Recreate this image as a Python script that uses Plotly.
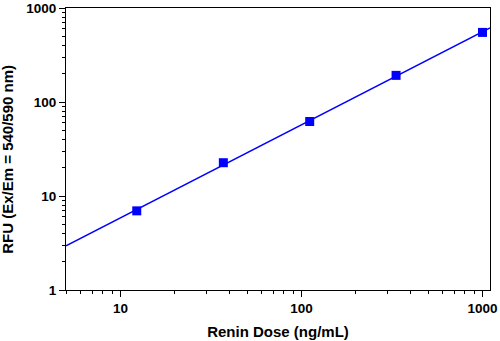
import numpy as np
import plotly.graph_objects as go

dose = [12.3, 37, 111, 333, 1000]
rfu = [6.95, 22.6, 62.0, 192, 550]
fit_x_range = [5, 1100]

# linear fit in log-log space
coef = np.polyfit(np.log10(dose), np.log10(rfu), 1)
fx = np.array(fit_x_range, dtype=float)
fy = 10 ** np.polyval(coef, np.log10(fx))

fig = go.Figure()
fig.add_trace(go.Scatter(x=fx, y=fy, mode="lines",
                         line=dict(color="#0000FF", width=1.5),
                         showlegend=False, hoverinfo="skip", cliponaxis=True))
fig.add_trace(go.Scatter(x=dose, y=rfu, mode="markers",
                         marker=dict(symbol="square", size=9, color="#0000FF"),
                         showlegend=False, cliponaxis=False))

fam = "Liberation Sans, Arial, sans-serif"
fig.update_layout(
    width=500, height=341,
    margin=dict(l=66, r=10, t=8, b=51),
    plot_bgcolor="white", paper_bgcolor="white",
    font=dict(family=fam, size=14, color="black"),
)
fig.update_xaxes(
    type="log", range=[np.log10(5), np.log10(1100)], automargin=False,
    tickvals=[10, 100, 1000], ticktext=["<b>10</b>", "<b>100</b>", "<b>1000</b>"],
    tickfont=dict(size=13.5),
    ticks="outside", ticklen=6, tickwidth=1, tickcolor="black",
    minor=dict(ticks="outside", ticklen=3, tickcolor="black",
               tickvals=[5, 6, 7, 8, 9, 20, 30, 40, 50, 60, 70, 80, 90,
                         200, 300, 400, 500, 600, 700, 800, 900]),
    showline=True, linecolor="black", linewidth=1, mirror=True,
    showgrid=False, zeroline=False,
    title=dict(text="<b>Renin Dose (ng/mL)</b>", font=dict(size=15), standoff=11),
)
fig.update_yaxes(
    type="log", range=[0, 3], automargin=False,
    tickvals=[1, 10, 100, 1000], ticktext=["<b>1</b>", "<b>10</b>", "<b>100</b>", "<b>1000</b>"],
    tickfont=dict(size=13.5),
    ticks="outside", ticklen=6, tickwidth=1, tickcolor="black",
    minor=dict(ticks="outside", ticklen=3, tickcolor="black",
               tickvals=[2, 3, 4, 5, 6, 7, 8, 9, 20, 30, 40, 50, 60, 70, 80, 90,
                         200, 300, 400, 500, 600, 700, 800, 900]),
    showline=True, linecolor="black", linewidth=1, mirror=True,
    showgrid=False, zeroline=False,
)
fig.add_annotation(
    text="<b>RFU (Ex/Em = 540/590 nm)</b>", textangle=-90,
    xref="paper", yref="paper", x=-0.137, y=0.465,
    xanchor="center", yanchor="middle", showarrow=False,
    font=dict(size=15, family=fam, color="black"),
)
fig.write_html("out.html")
